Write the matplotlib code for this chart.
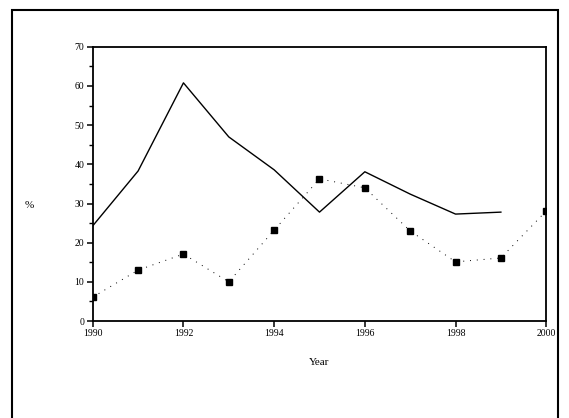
import matplotlib
matplotlib.use("Agg")
import matplotlib.pyplot as plt
from matplotlib.patches import Rectangle

years = [1990, 1991, 1992, 1993, 1994, 1995, 1996, 1997, 1998, 1999, 2000]
line_years = years[:10]
line_vals = [24.3, 38.3, 60.8, 47.0, 38.6, 27.8, 38.1, 32.4, 27.3, 27.8]
point_vals = [6.1, 13.0, 17.1, 10.0, 23.2, 36.3, 34.0, 23.0, 15.1, 16.1, 28.1]
xticks = [1990, 1992, 1994, 1996, 1998, 2000]
yticks = [0, 10, 20, 30, 40, 50, 60, 70]

plt.rcParams['font.family'] = ['Liberation Serif', 'DejaVu Serif']

fig = plt.figure(figsize=(5.69, 4.18), dpi=100)
ax = fig.add_axes([0.163, 0.232, 0.797, 0.656])

ax.plot(line_years, line_vals, color='black', lw=1.0)
ax.plot(years, point_vals, color='black', lw=0.7, ls=(0, (1, 6)),
        marker='s', ms=4, mfc='black', mec='black')

ax.set_xlim(1990, 2000)
ax.set_ylim(0, 70)
ax.set_xticks(xticks)
ax.set_yticks(yticks)
ax.set_yticks(range(5, 70, 10), minor=True)
ax.tick_params(direction='out', length=4, width=1.1, labelsize=7, pad=2)
ax.tick_params(which='minor', direction='out', length=3, width=1.0)
for s in ax.spines.values():
    s.set_linewidth(1.3)

ax.set_xlabel('Year', fontsize=8, labelpad=14)
ax.set_ylabel('%', fontsize=8, rotation=0, va='center')
ax.yaxis.set_label_coords(-0.139, 0.42)

fig.patches.append(Rectangle((0.021, -0.2), 0.959, 1.176, transform=fig.transFigure,
                             fill=False, ec='black', lw=1.5))

fig.savefig('out.png', dpi=100)
